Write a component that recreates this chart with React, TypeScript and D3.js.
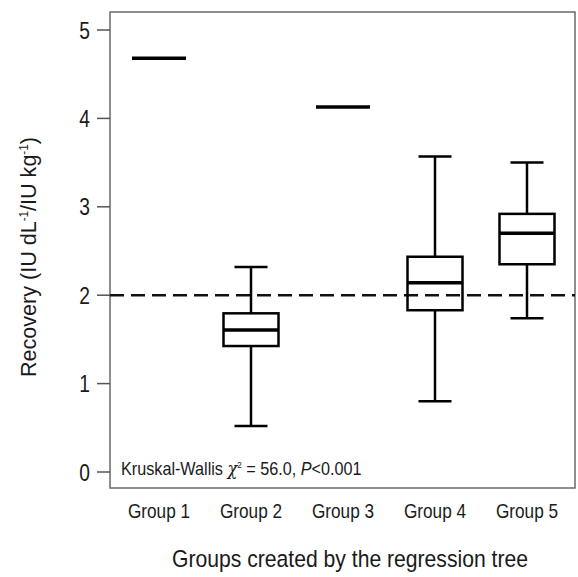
import * as d3 from "d3";

const groups = ["Group 1", "Group 2", "Group 3", "Group 4", "Group 5"];
// box stats per group: min, q1, median, q3, max (groups 1 and 3 are single values)
const mins = [4.68, 0.52, 4.13, 0.8, 1.74];
const q1s = [4.68, 1.425, 4.13, 1.83, 2.35];
const medians = [4.68, 1.606, 4.13, 2.14, 2.7];
const q3s = [4.68, 1.795, 4.13, 2.435, 2.92];
const maxs = [4.68, 2.32, 4.13, 3.57, 3.5];
const yTicks = [0, 1, 2, 3, 4, 5];
const refLine = 2;

const W = 578;
const H = 577;
const FRAME = { left: 110, top: 12, right: 575, bottom: 488 };
const FONT = "'Liberation Sans', Arial, sans-serif";

// condensed text: the original uses a narrow Helvetica
const Narrow = ({ x, y, sx = 0.82, anchor = "start", size, children, rotate = 0 }: any) => (
  <text
    transform={`translate(${x},${y}) rotate(${rotate}) scale(${sx},1)`}
    textAnchor={anchor}
    fontFamily={FONT}
    fontSize={size}
    fill="#1a1a1a"
  >
    {children}
  </text>
);

const App = () => {
  const y = d3.scaleLinear().domain([0, 5]).range([472, 30]);
  const x = d3.scalePoint<string>().domain(groups).range([159, 527]);
  const boxW = 55;
  const capW = 33;

  const data = groups.map((g, i) => ({
    g,
    min: mins[i],
    q1: q1s[i],
    med: medians[i],
    q3: q3s[i],
    max: maxs[i],
  }));

  return (
    <svg width={W} height={H} style={{ position: "absolute", left: 0, top: 0, background: "#fff" }}>
      <rect x={0} y={0} width={W} height={H} fill="#fff" />
      <rect
        x={FRAME.left}
        y={FRAME.top}
        width={FRAME.right - FRAME.left}
        height={FRAME.bottom - FRAME.top}
        fill="none"
        stroke="#6a6a6a"
        strokeWidth={1.5}
      />
      {yTicks.map((t) => (
        <g key={t}>
          <line x1={97} x2={FRAME.left} y1={y(t)} y2={y(t)} stroke="#555" strokeWidth={1.5} />
          <Narrow x={90} y={y(t) + 8.5} anchor="end" size={24} sx={0.8}>
            {t}
          </Narrow>
        </g>
      ))}
      <line
        x1={FRAME.left}
        x2={FRAME.right}
        y1={y(refLine)}
        y2={y(refLine)}
        stroke="#111"
        strokeWidth={2.5}
        strokeDasharray="14,7"
      />
      {data.map((d) => {
        const cx = x(d.g) as number;
        if (d.min === d.max) {
          return (
            <line
              key={d.g}
              x1={cx - 27}
              x2={cx + 27}
              y1={y(d.med)}
              y2={y(d.med)}
              stroke="#000"
              strokeWidth={3.5}
            />
          );
        }
        return (
          <g key={d.g} stroke="#000" fill="none">
            <line x1={cx} x2={cx} y1={y(d.max)} y2={y(d.q3)} strokeWidth={2.5} />
            <line x1={cx} x2={cx} y1={y(d.q1)} y2={y(d.min)} strokeWidth={2.5} />
            <line x1={cx - capW / 2} x2={cx + capW / 2} y1={y(d.max)} y2={y(d.max)} strokeWidth={2.5} />
            <line x1={cx - capW / 2} x2={cx + capW / 2} y1={y(d.min)} y2={y(d.min)} strokeWidth={2.5} />
            <rect
              x={cx - boxW / 2}
              y={y(d.q3)}
              width={boxW}
              height={y(d.q1) - y(d.q3)}
              strokeWidth={2.5}
            />
            <line x1={cx - boxW / 2} x2={cx + boxW / 2} y1={y(d.med)} y2={y(d.med)} strokeWidth={3.5} />
          </g>
        );
      })}
      <Narrow x={121} y={475} size={18} sx={0.9}>
        Kruskal-Wallis <tspan fontFamily="'DejaVu Serif', serif" fontStyle="italic">χ</tspan>
        <tspan fontSize={9} dy={-7}>2</tspan>
        <tspan dy={7}> = 56.0, </tspan>
        <tspan fontStyle="italic">P</tspan>&lt;0.001
      </Narrow>
      {groups.map((g) => (
        <Narrow key={g} x={x(g)} y={518} anchor="middle" size={21}>
          {g}
        </Narrow>
      ))}
      <Narrow x={350} y={567} anchor="middle" size={23.5} sx={0.9}>
        Groups created by the regression tree
      </Narrow>
      <Narrow x={36} y={257} anchor="middle" size={22} sx={0.98} rotate={-90}>
        Recovery (IU dL
        <tspan fontSize={12} dy={-8}>-1</tspan>
        <tspan dy={8}>/IU kg</tspan>
        <tspan fontSize={12} dy={-8}>-1</tspan>
        <tspan dy={8}>)</tspan>
      </Narrow>
    </svg>
  );
};

export default App;
